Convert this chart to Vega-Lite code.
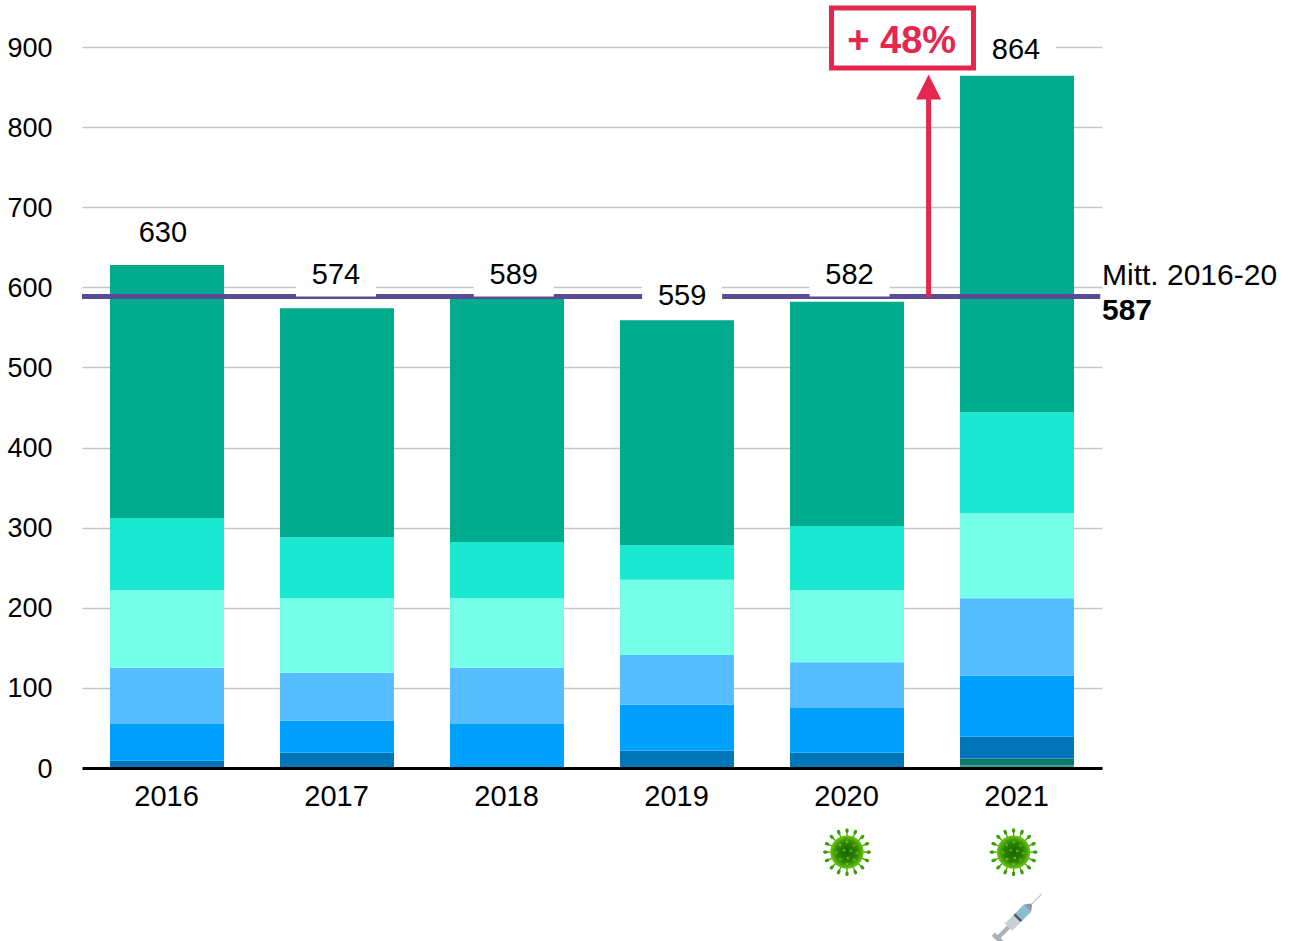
{
"$schema":"https://vega.github.io/schema/vega-lite/v6.json",
"width":1020,"height":721,
"autosize":{"type":"none"},
"padding":{"left":82,"top":47,"right":187,"bottom":173},
"background":"white",
"config":{"font":"Liberation Sans","view":{"stroke":null}},
"resolve":{"axis":{"x":"independent","y":"independent"}},
"datasets":{
"bars":[
{"year":2016,"series":"A","rank":3,"value":9},{"year":2016,"series":"B","rank":4,"value":46},{"year":2016,"series":"C","rank":5,"value":70},{"year":2016,"series":"D","rank":6,"value":97},{"year":2016,"series":"E","rank":7,"value":90},{"year":2016,"series":"F","rank":8,"value":316},
{"year":2017,"series":"A","rank":3,"value":19},{"year":2017,"series":"B","rank":4,"value":40},{"year":2017,"series":"C","rank":5,"value":60},{"year":2017,"series":"D","rank":6,"value":93},{"year":2017,"series":"E","rank":7,"value":76},{"year":2017,"series":"F","rank":8,"value":286},
{"year":2018,"series":"B","rank":4,"value":55},{"year":2018,"series":"C","rank":5,"value":70},{"year":2018,"series":"D","rank":6,"value":87},{"year":2018,"series":"E","rank":7,"value":70},{"year":2018,"series":"F","rank":8,"value":307},
{"year":2019,"series":"A","rank":3,"value":22},{"year":2019,"series":"B","rank":4,"value":57},{"year":2019,"series":"C","rank":5,"value":62},{"year":2019,"series":"D","rank":6,"value":94},{"year":2019,"series":"E","rank":7,"value":43},{"year":2019,"series":"F","rank":8,"value":281},
{"year":2020,"series":"H","rank":2,"value":1},{"year":2020,"series":"A","rank":3,"value":18},{"year":2020,"series":"B","rank":4,"value":56},{"year":2020,"series":"C","rank":5,"value":57},{"year":2020,"series":"D","rank":6,"value":90},{"year":2020,"series":"E","rank":7,"value":80},{"year":2020,"series":"F","rank":8,"value":280},
{"year":2021,"series":"G","rank":1,"value":3},{"year":2021,"series":"H","rank":2,"value":9},{"year":2021,"series":"A","rank":3,"value":27},{"year":2021,"series":"B","rank":4,"value":76},{"year":2021,"series":"C","rank":5,"value":97},{"year":2021,"series":"D","rank":6,"value":106},{"year":2021,"series":"E","rank":7,"value":126},{"year":2021,"series":"F","rank":8,"value":420}
],
"totals":[
{"year":2016,"at":2015.976,"total":"630","level":668},
{"year":2017,"at":2016.994,"total":"574","level":615},
{"year":2018,"at":2018.04,"total":"589","level":615},
{"year":2019,"at":2019.03,"total":"559","level":589},
{"year":2020,"at":2020.015,"total":"582","level":615},
{"year":2021,"at":2020.994,"total":"864","level":896}
],
"masks":[
{"at":2016.994,"low":588.5,"high":632},
{"at":2018.04,"low":588.5,"high":632},
{"at":2019.03,"low":565,"high":612},
{"at":2020.015,"low":588.5,"high":632},
{"at":2020.994,"low":880,"high":925}
],
"virus":[{"at":2020.0,"level":-105},{"at":2020.98,"level":-105}],
"syringe":[{"at":2021.005,"level":-187}]
},
"layer":[
{"data":{"name":"bars"},"mark":{"type":"bar","size":114,"orient":"vertical"},
 "encoding":{
  "x":{"field":"year","type":"quantitative","title":null,"scale":{"domain":[2015.5,2021.5],"nice":false,"zero":false,"padding":0},
   "axis":{"values":[2016,2017,2018,2019,2020,2021],"format":"d","grid":false,"ticks":false,"domainColor":"#000000","domainWidth":3,"labelFontSize":29,"labelColor":"#000000","labelPadding":14,"labelOffset":-1,"labelFlush":false,"labelOverlap":false,"labelAngle":0,"zindex":1}},
  "y":{"field":"value","type":"quantitative","stack":"zero","title":null,"scale":{"domain":[0,900],"nice":false},
   "axis":{"values":[0,100,200,300,400,500,600,700,800,900],"grid":true,"gridColor":"#c6c6c6","gridWidth":1.5,"ticks":false,"domain":false,"labelFontSize":27,"labelColor":"#000000","labelPadding":30,"labelOffset":1}},
  "color":{"field":"series","type":"nominal","legend":null,"scale":{"domain":["G","H","A","B","C","D","E","F"],"range":["#2a9d90","#0a7a6c","#0075b8","#00a0ff","#56bdff","#76ffe8","#1ae8d0","#00ab8e"]}},
  "order":{"field":"rank","type":"quantitative"}
 }},
{"data":{"values":[{"from":2015.5,"to":2021.49,"level":588.5}]},"mark":{"type":"rule","color":"#5b4b94","strokeWidth":5},
 "encoding":{"x":{"field":"from","type":"quantitative","axis":null},"x2":{"field":"to"},"y":{"field":"level","type":"quantitative","axis":null}}},
{"data":{"name":"masks"},"mark":{"type":"bar","size":80,"orient":"vertical","color":"white"},
 "encoding":{"x":{"field":"at","type":"quantitative","axis":null},"y":{"field":"low","type":"quantitative","axis":null},"y2":{"field":"high"}}},
{"data":{"name":"totals"},"mark":{"type":"text","fontSize":29,"color":"#000000","align":"center","baseline":"middle"},
 "encoding":{"x":{"field":"at","type":"quantitative","axis":null},"y":{"field":"level","type":"quantitative","axis":null},"text":{"field":"total"}}},
{"data":{"values":[{"at":2020.48,"low":588,"high":838}]},"mark":{"type":"rule","color":"#e5264f","strokeWidth":5},
 "encoding":{"x":{"field":"at","type":"quantitative","axis":null},"y":{"field":"low","type":"quantitative","axis":null},"y2":{"field":"high"}}},
{"data":{"values":[{"at":2020.48,"level":850}]},"mark":{"type":"point","shape":"M0,-1L1,1L-1,1Z","size":625,"filled":true,"fill":"#e5264f","opacity":1,"strokeWidth":0},
 "encoding":{"x":{"field":"at","type":"quantitative","axis":null},"y":{"field":"level","type":"quantitative","axis":null}}},
{"data":{"values":[{"from":2019.909,"to":2020.744,"low":873.7,"high":948.7}]},"mark":{"type":"rect","fill":"white","stroke":"#e5264f","strokeWidth":5},
 "encoding":{"x":{"field":"from","type":"quantitative","axis":null},"x2":{"field":"to"},"y":{"field":"low","type":"quantitative","axis":null},"y2":{"field":"high"}}},
{"data":{"values":[{"at":2020.322,"level":906,"label":"+ 48%"}]},"mark":{"type":"text","fontSize":38,"fontWeight":"bold","color":"#e5264f","align":"center","baseline":"middle"},
 "encoding":{"x":{"field":"at","type":"quantitative","axis":null},"y":{"field":"level","type":"quantitative","axis":null},"text":{"field":"label"}}},
{"data":{"values":[{"at":2021.5,"level":614,"label":"Mitt. 2016-20"}]},"mark":{"type":"text","fontSize":30,"color":"#000000","align":"left","baseline":"middle"},
 "encoding":{"x":{"field":"at","type":"quantitative","axis":null},"y":{"field":"level","type":"quantitative","axis":null},"text":{"field":"label"}}},
{"data":{"values":[{"at":2021.5,"level":570,"label":"587"}]},"mark":{"type":"text","fontSize":30,"fontWeight":"bold","color":"#000000","align":"left","baseline":"middle"},
 "encoding":{"x":{"field":"at","type":"quantitative","axis":null},"y":{"field":"level","type":"quantitative","axis":null},"text":{"field":"label"}}},
{"data":{"name":"virus"},"mark":{"type":"point","size":2209,"filled":false,"opacity":1,"stroke":"#3f9e0c","strokeWidth":1.3,
 "shape":"M.65,0L.92,0M.6,.249L.85,.352M.46,.46L.65,.65M.249,.6L.352,.85M0,.65L0,.92M-.249,.6L-.352,.85M-.46,.46L-.65,.65M-.6,.249L-.85,.352M-.65,0L-.92,0M-.6,-.249L-.85,-.352M-.46,-.46L-.65,-.65M-.249,-.6L-.352,-.85M0,-.65L0,-.92M.249,-.6L.352,-.85M.46,-.46L.65,-.65M.6,-.249L.85,-.352"},
 "encoding":{"x":{"field":"at","type":"quantitative","axis":null},"y":{"field":"level","type":"quantitative","axis":null}}},
{"data":{"name":"virus"},"mark":{"type":"point","size":2209,"filled":false,"opacity":1,"stroke":"#35a000","strokeWidth":3.2,"strokeCap":"round",
 "shape":"M.89,0L.95,0M.822,.341L.878,.364M.629,.629L.672,.672M.341,.822L.364,.878M0,.89L0,.95M-.341,.822L-.364,.878M-.629,.629L-.672,.672M-.822,.341L-.878,.364M-.89,0L-.95,0M-.822,-.341L-.878,-.364M-.629,-.629L-.672,-.672M-.341,-.822L-.364,-.878M0,-.89L0,-.95M.341,-.822L.364,-.878M.629,-.629L.672,-.672M.822,-.341L.878,-.364"},
 "encoding":{"x":{"field":"at","type":"quantitative","axis":null},"y":{"field":"level","type":"quantitative","axis":null}}},
{"data":{"name":"virus"},"mark":{"type":"point","shape":"circle","size":1120,"filled":true,"opacity":1,"strokeWidth":0,
 "fill":{"gradient":"radial","x1":0.5,"y1":0.5,"r1":0,"x2":0.5,"y2":0.5,"r2":0.5,"stops":[{"offset":0,"color":"#156600"},{"offset":0.6,"color":"#2a8400"},{"offset":1,"color":"#6cc810"}]}},
 "encoding":{"x":{"field":"at","type":"quantitative","axis":null},"y":{"field":"level","type":"quantitative","axis":null}}},
{"data":{"name":"virus"},"mark":{"type":"point","size":2209,"filled":false,"opacity":0.9,"stroke":"#9fc640","strokeWidth":0.9,
 "shape":"M-.35,-.3L-.3,-.35L-.25,-.3L-.3,-.25ZM-.05,-.42L0,-.47L.05,-.42L0,-.37ZM.25,-.28L.3,-.33L.35,-.28L.3,-.23ZM-.5,.02L-.45,-.03L-.4,.02L-.45,.07ZM-.17,-.08L-.12,-.13L-.07,-.08L-.12,-.03ZM.11,-.05L.16,-.1L.21,-.05L.16,0ZM.37,.05L.42,0L.47,.05L.42,.1ZM-.33,.3L-.28,.25L-.23,.3L-.28,.35ZM0,.25L.05,.2L.1,.25L.05,.3ZM.25,.32L.3,.27L.35,.32L.3,.37ZM-.05,.5L0,.45L.05,.5L0,.55Z"},
 "encoding":{"x":{"field":"at","type":"quantitative","axis":null},"y":{"field":"level","type":"quantitative","axis":null}}},
{"data":{"name":"syringe"},"mark":{"type":"point","size":2304,"filled":false,"opacity":1,"stroke":"#9aa5ad","strokeWidth":1,"shape":"M.566,-.566L1,-1"},
 "encoding":{"x":{"field":"at","type":"quantitative","axis":null},"y":{"field":"level","type":"quantitative","axis":null}}},
{"data":{"name":"syringe"},"mark":{"type":"point","size":2304,"filled":true,"opacity":1,"strokeWidth":0,"fill":"#a9b3b9","shape":"M-.841,.714L-.453,.325L-.325,.453L-.714,.841ZM-1.089,.75L-.947,.608L-.608,.947L-.75,1.089Z"},
 "encoding":{"x":{"field":"at","type":"quantitative","axis":null},"y":{"field":"level","type":"quantitative","axis":null}}},
{"data":{"name":"syringe"},"mark":{"type":"point","size":2304,"filled":true,"opacity":1,"strokeWidth":0,"fill":"#c8d1d7","shape":"M-.544,.233L.233,-.544L.544,-.233L-.233,.544Z"},
 "encoding":{"x":{"field":"at","type":"quantitative","axis":null},"y":{"field":"level","type":"quantitative","axis":null}}},
{"data":{"name":"syringe"},"mark":{"type":"point","size":2304,"filled":true,"opacity":1,"strokeWidth":0,"fill":"#8d9aa3","shape":"M.233,-.544L.53,-.601L.601,-.53L.544,-.233Z"},
 "encoding":{"x":{"field":"at","type":"quantitative","axis":null},"y":{"field":"level","type":"quantitative","axis":null}}},
{"data":{"name":"syringe"},"mark":{"type":"point","size":2304,"filled":true,"opacity":1,"strokeWidth":0,"fill":"#8cbbd6","shape":"M-.141,-.141L.247,-.53L.53,-.247L.141,.141Z"},
 "encoding":{"x":{"field":"at","type":"quantitative","axis":null},"y":{"field":"level","type":"quantitative","axis":null}}},
{"data":{"name":"syringe"},"mark":{"type":"point","size":2304,"filled":true,"opacity":1,"strokeWidth":0,"fill":"#4f5a60","shape":"M-.177,-.106L-.106,-.177L.177,.106L.106,.177Z"},
 "encoding":{"x":{"field":"at","type":"quantitative","axis":null},"y":{"field":"level","type":"quantitative","axis":null}}}
]
}
